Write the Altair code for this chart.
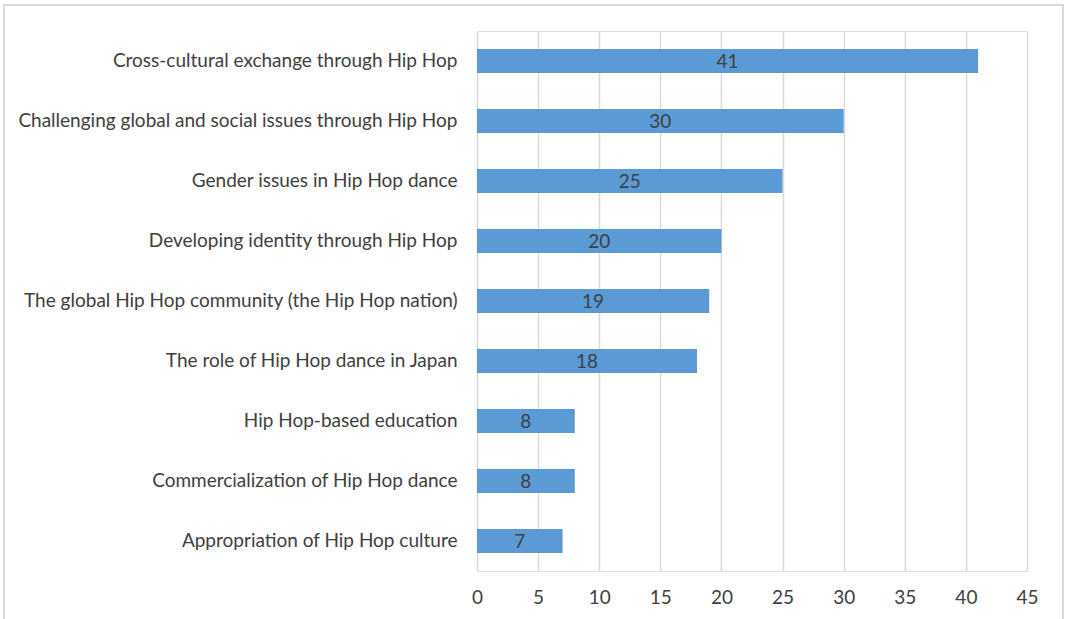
import altair as alt
import pandas as pd

topics = [
    "Cross-cultural exchange through Hip Hop",
    "Challenging global and social issues through Hip Hop",
    "Gender issues in Hip Hop dance",
    "Developing identity through Hip Hop",
    "The global Hip Hop community (the Hip Hop nation)",
    "The role of Hip Hop dance in Japan",
    "Hip Hop-based education",
    "Commercialization of Hip Hop dance",
    "Appropriation of Hip Hop culture",
]
counts = [41, 30, 25, 20, 19, 18, 8, 8, 7]

df = pd.DataFrame({"topic": topics, "count": counts})

FONT = "Lato"
TXT = "#404040"
FS = 19

y_enc = alt.Y("topic:N", sort=topics, title=None,
              scale=alt.Scale(paddingInner=0.6, paddingOuter=0.3),
              axis=alt.Axis(labelFont=FONT, labelFontSize=FS, labelColor=TXT,
                            ticks=False, domain=False, labelPadding=20,
                            labelLimit=600))
x_enc = alt.X("count:Q", title=None,
              scale=alt.Scale(domain=[0, 45], nice=False),
              axis=alt.Axis(values=list(range(0, 50, 5)), labelFont=FONT,
                            labelFontSize=FS, labelColor=TXT, ticks=False,
                            domain=False, labelPadding=17, labelFlush=False,
                            grid=True, gridColor="#d9d9d9", gridWidth=1.5))

bars = alt.Chart(df).mark_bar(color="#5b9bd5").encode(x=x_enc, y=y_enc)
labels = alt.Chart(df).mark_text(font=FONT, fontSize=FS, color=TXT, dy=1).encode(
    x=alt.X("mid:Q"), y=alt.Y("topic:N", sort=topics), text="count:Q"
).transform_calculate(mid="datum.count / 2")

frame = alt.Chart(pd.DataFrame({"a": [0]})).mark_rect(
    fill=None, stroke="#d9d9d9", strokeWidth=2
).encode(x=alt.value(-473), x2=alt.value(586), y=alt.value(-26), y2=alt.value(640))

chart = alt.layer(frame, bars, labels).properties(
    width=550, height=540,
    padding={"left": 477, "top": 31, "right": 41, "bottom": 48},
    autosize=alt.AutoSizeParams(type="none"),
).configure_view(stroke=None).configure(background="white")

chart.save("out.html", embed_options={"renderer": "svg", "actions": False})
